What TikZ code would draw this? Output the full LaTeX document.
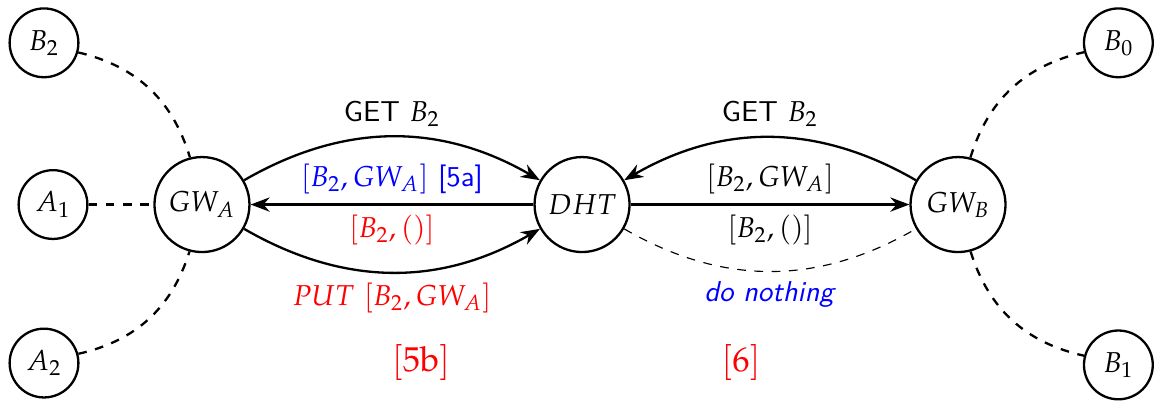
\documentclass[tikz,border=0pt]{standalone}
\usepackage{mathpazo}
\usetikzlibrary{arrows.meta}

\begin{document}
\begin{tikzpicture}[
    x=0.8333cm, y=0.8333cm,
    peer/.style={circle, draw, thick, minimum size=0.84cm, inner sep=1pt},
    hub/.style={circle, draw, thick, minimum size=1.16cm, inner sep=1pt},
    ->,>=Stealth,
    every edge/.style={draw, thick}
]
    \useasboundingbox (0,0) rectangle (17,5.878);

    % hosts and gateways
    \node[peer] (b2) at (0.645,5.25) {$B_2$};
    \node[peer] (a1) at (0.777,2.88) {$A_1$};
    \node[peer] (a2) at (0.645,0.557) {$A_2$};
    \node[hub] (gwa) at (2.96,2.88) {$GW_A$};
    \node[hub] (dht) at (8.53,2.88) {$DHT$};
    \node[hub] (gwb) at (14.04,2.88) {$GW_B$};
    \node[peer] (b0) at (16.39,5.25) {$B_0$};
    \node[peer] (b1) at (16.39,0.53) {$B_1$};

    % local links
    \draw (b2) edge[-, dashed, bend left=30] (gwa);
    \draw (a1) edge[-, dashed] (gwa);
    \draw (a2) edge[-, dashed, bend right=30] (gwa);
    \draw (gwb) edge[-, dashed, bend left=30] (b0);
    \draw (gwb) edge[-, dashed, bend right=30] (b1);

    % messages
    \draw (gwa) edge[bend left=30] node[above] {\textsf{GET} $B_2$} (dht);
    \draw (dht) edge node[above, blue] {$[B_2, GW_A]$ \textsf{[5a]}} node[below, red] {$[B_2, ()]$} (gwa);
    \draw (gwa) edge[bend right=30] node[below, red] {$PUT\ [B_2, GW_A]$} (dht);
    \draw (gwb) edge[bend right=30] node[above] {\textsf{GET} $B_2$} (dht);
    \draw (dht) edge node[above] {$[B_2, GW_A]$} node[below] {$[B_2, ()]$} (gwb);
    \draw (dht) edge[-, thin, dashed, bend right=30] node[below, blue] {\textsf{\textit{do nothing}}} (gwb);

    \node[red, font=\large] (s5b) at (6.17,0.57) {$\mathrm{[5b]}$};
    \node[red, font=\large] (s6) at (10.86,0.57) {$\mathrm{[6]}$};
\end{tikzpicture}
\end{document}
